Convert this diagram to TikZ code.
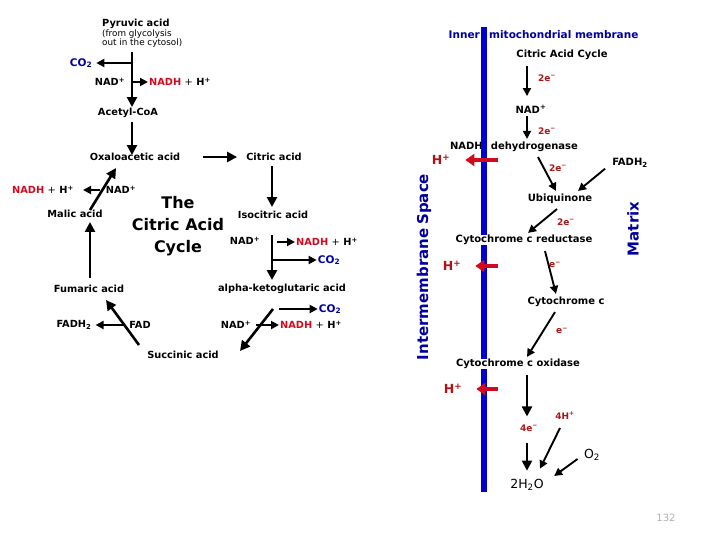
\documentclass[tikz,border=0pt]{standalone}
\usepackage{fontspec}
\setmainfont{DejaVu Sans}
\usetikzlibrary{arrows.meta}
\definecolor{nadh}{RGB}{210,10,30}
\definecolor{carbon}{RGB}{0,0,160}
\definecolor{membrane}{RGB}{0,0,210}
\definecolor{electron}{RGB}{175,20,20}

\begin{document}
\begin{tikzpicture}[x=1pt,y=-1pt,
    lbl/.style={font=\bfseries\fontsize{9.8}{11}\selectfont, inner sep=1pt},
    rlbl/.style={font=\bfseries\fontsize{10}{11}\selectfont, inner sep=1pt},
    co/.style={lbl, carbon, font=\bfseries\fontsize{10.5}{11}\selectfont},
    elec/.style={electron, font=\bfseries\fontsize{9}{10}\selectfont, inner sep=1pt},
    proton/.style={electron, font=\bfseries\fontsize{12.5}{12}\selectfont, inner sep=1pt},
    flow/.style={line width=2.6pt, -{Triangle[length=10pt,width=10pt]}},
    side/.style={line width=1.9pt, -{Triangle[length=8pt,width=8pt]}},
    pump/.style={nadh, line width=4pt, -{Triangle[length=9pt,width=12pt]}}
    ]
\useasboundingbox (0,0) rectangle (720,540);

% citric acid cycle
\node[lbl, align=left, anchor=north west] (pyruvic) at (101,18)
    {Pyruvic acid\\[-1pt]{\mdseries\fontsize{8.8}{10}\selectfont (from glycolysis}\\[-2pt]{\mdseries\fontsize{8.8}{10}\selectfont out in the cytosol)}};
\node[co] (co2a) at (81,63) {CO\textsubscript{2}};
\node[lbl] (nad1) at (110,82) {NAD\textsuperscript{+}};
\node[lbl, anchor=west] (nadh1) at (148,82) {\textcolor{nadh}{NADH} {\mdseries+} H\textsuperscript{+}};
\node[lbl] (acetyl) at (128,113) {Acetyl-CoA};
\node[lbl] (oaa) at (135,157) {Oxaloacetic acid};
\node[lbl] (citric) at (274,157) {Citric acid};
\node[lbl] (iso) at (273,215) {Isocitric acid};
\node[lbl] (nad2) at (245,241) {NAD\textsuperscript{+}};
\node[lbl, anchor=west] (nadh2) at (295,242) {\textcolor{nadh}{NADH} {\mdseries+} H\textsuperscript{+}};
\node[co] (co2b) at (329,260) {CO\textsubscript{2}};
\node[lbl] (akg) at (282,289) {alpha-ketoglutaric acid};
\node[co] (co2c) at (330,309) {CO\textsubscript{2}};
\node[lbl] (nad3) at (236,325) {NAD\textsuperscript{+}};
\node[lbl, anchor=west] (nadh3) at (279,325) {\textcolor{nadh}{NADH} {\mdseries+} H\textsuperscript{+}};
\node[lbl] (succinic) at (183,355) {Succinic acid};
\node[lbl] (fad) at (140,325) {FAD};
\node[lbl] (fadh) at (74,325) {FADH\textsubscript{2}};
\node[lbl] (fumaric) at (89,289) {Fumaric acid};
\node[lbl] (malic) at (75,214) {Malic acid};
\node[lbl] (nad4) at (121,190) {NAD\textsuperscript{+}};
\node[lbl] (nadh4) at (43,190) {\textcolor{nadh}{NADH} {\mdseries+} H\textsuperscript{+}};
\node[font=\bfseries\fontsize{16}{22}\selectfont, align=center] (title) at (178,226) {The\\Citric Acid\\Cycle};

\coordinate (pyrline) at (132,52);
\coordinate (isoline) at (272,235);
\coordinate (akgfork) at (273,309);
\coordinate (sucend) at (240,351);
\coordinate (fumend) at (106,300);
\coordinate (malline) at (90,278);
\coordinate (oaaend) at (116,168);

\draw[flow] (pyrline) -- (pyrline |- acetyl.north);
\draw[side] (pyrline |- co2a) -- ([xshift=3pt]co2a.east);
\draw[side] (pyrline |- nadh1.west) -- (nadh1.west);
\draw[flow] ([xshift=4pt,yshift=-3pt]acetyl.south) -- ([xshift=4pt,yshift=-3pt]acetyl.south |- oaa.north);
\draw[flow] ([xshift=22pt]oaa.east) -- ([xshift=-8pt]citric.west);
\draw[flow] ([xshift=-2pt,yshift=-4pt]citric.south) -- ([xshift=-2pt,yshift=3pt]citric.south |- iso.north);
\draw[flow] (isoline) -- ([yshift=3pt]isoline |- akg.north);
\draw[side] ([xshift=5pt]isoline |- nadh2.west) -- (nadh2.west);
\draw[side] (isoline |- co2b.west) -- (co2b.west);
\draw[side] ([xshift=6pt]akgfork) -- (co2c.west);
\draw[flow] (akgfork) -- (sucend);
\draw[side] ([xshift=4pt]nad3.east) -- (nadh3.west);
\draw[flow] ([xshift=-44pt,yshift=5pt]succinic.north) -- (fumend);
\draw[side] ([xshift=-4pt]fad.west) -- ([xshift=3pt]fadh.east);
\draw[flow] (malline) -- ([yshift=-3pt]malline |- malic.south);
\draw[flow] ([xshift=15pt,yshift=-1pt]malic.north) -- (oaaend);
\draw[side] ([xshift=-5pt]nad4.west) -- ([xshift=8pt]nadh4.east);

% electron transport chain
\node[rlbl, carbon, anchor=east, font=\bfseries\fontsize{10.5}{11}\selectfont] (inner) at (481,35) {Inner};
\node[rlbl, carbon, anchor=west, font=\bfseries\fontsize{10.5}{11}\selectfont] (mito) at (488,35) {mitochondrial membrane};
\node[rlbl] (cac) at (562,55) {Citric Acid Cycle};
\node[elec] (e1) at (547,78) {2e\textsuperscript{−}};
\node[rlbl] (nadp) at (531,109) {NAD\textsuperscript{+}};
\node[elec] (e2) at (547,131) {2e\textsuperscript{−}};
\node[rlbl] (nadhdh) at (514,147) {NADH\hspace{8pt}dehydrogenase};
\node[proton] (hp1) at (441,160) {H\textsuperscript{+}};
\node[elec] (e3) at (558,168) {2e\textsuperscript{−}};
\node[rlbl] (fadh2) at (630,163) {FADH\textsubscript{2}};
\node[rlbl] (ubq) at (560,199) {Ubiquinone};
\node[elec] (e4) at (566,222) {2e\textsuperscript{−}};
\node[proton] (hp2) at (452,266) {H\textsuperscript{+}};
\node[elec] (e5) at (555,265) {e\textsuperscript{−}};
\node[rlbl] (cytc) at (566,302) {Cytochrome c};
\node[elec] (e6) at (562,331) {e\textsuperscript{−}};
\node[proton] (hp3) at (453,389) {H\textsuperscript{+}};
\node[elec] (e7) at (529,428) {4e\textsuperscript{−}};
\node[elec] (h4) at (565,416) {4H\textsuperscript{+}};
\node[font=\fontsize{12.5}{12}\selectfont] (o2) at (592,455) {O\textsubscript{2}};
\node[font=\fontsize{12.5}{12}\selectfont] (water) at (527,485) {2H\textsubscript{2}O};
\node[carbon, rotate=90, font=\bfseries\fontsize{15}{15}\selectfont] (inter) at (424,267) {Intermembrane\hspace{4pt}Space};
\node[carbon, rotate=90, font=\bfseries\fontsize{15}{15}\selectfont] (matrix) at (633,229) {Matrix};
\node[gray!60, font=\fontsize{10}{10}\selectfont] (page) at (666,518) {132};

\coordinate (memtop) at (484,27);
\coordinate (membot) at (484,492);
\draw[membrane, line width=6pt] (memtop) -- (membot);

\node[rlbl, fill=white, inner ysep=0pt] (cytred) at (524,240) {Cytochrome c reductase};
\node[rlbl, fill=white, inner ysep=0pt] (cytox) at (518,364) {Cytochrome c oxidase};

\coordinate (oxline) at (527,375);
\coordinate (wline) at (527,443);
\coordinate (h4tail) at (560,428);

\draw[side] ([xshift=-35pt,yshift=-5pt]cac.south) -- ([xshift=-35pt,yshift=-35pt]cac.south);
\draw[side] ([xshift=-4pt,yshift=-2pt]nadp.south) -- ([xshift=-4pt,yshift=2pt]nadp.south |- nadhdh.north);
\draw[pump] ([xshift=14pt]memtop |- hp1) -- ([xshift=14pt]hp1.east);
\draw[side] ([xshift=24pt,yshift=-4pt]nadhdh.south) -- ([xshift=-4pt,yshift=2pt]ubq.north);
\draw[side] ([xshift=-6pt]fadh2.south west) -- ([xshift=18pt,yshift=2pt]ubq.north);
\draw[side] ([xshift=-3pt,yshift=-4pt]ubq.south) -- ([xshift=4pt,yshift=2pt]cytred.north);
\draw[pump] ([xshift=14pt]memtop |- hp2) -- ([xshift=13pt]hp2.east);
\draw[side] ([xshift=21pt,yshift=-6pt]cytred.south) -- ([xshift=-10pt,yshift=2pt]cytc.north);
\draw[side] ([xshift=-11pt,yshift=-4pt]cytc.south) -- ([xshift=9pt,yshift=2pt]cytox.north);
\draw[pump] ([xshift=14pt]memtop |- hp3) -- ([xshift=13pt]hp3.east);
\draw[flow, line width=2.2pt] (oxline) -- ([yshift=7pt]oxline |- e7.north);
\draw[flow, line width=2.2pt] (wline) -- ([yshift=5pt]wline |- water.north);
\draw[side] (h4tail) -- ([xshift=13pt,yshift=7pt]water.north);
\draw[side] ([xshift=-3pt,yshift=-4pt]o2.west) -- ([xshift=7pt,yshift=9pt]water.east);
\end{tikzpicture}
\end{document}
